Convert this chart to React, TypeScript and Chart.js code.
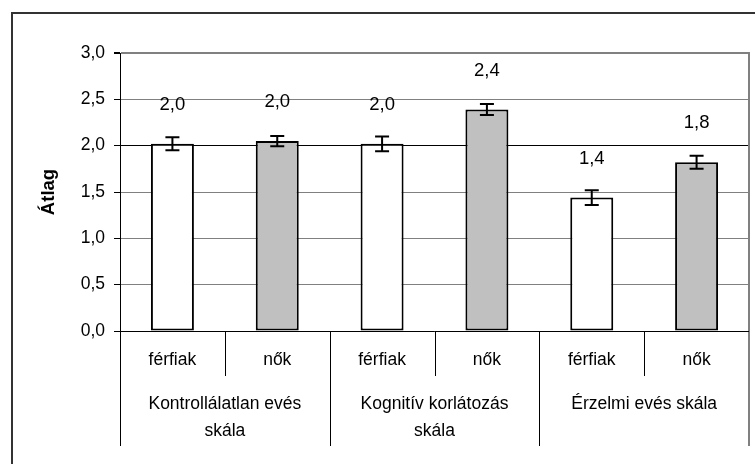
import React, { useEffect, useRef } from 'react';
import { Chart, registerables } from 'chart.js';

Chart.register(...registerables);

const categories = ['férfiak', 'nők', 'férfiak', 'nők', 'férfiak', 'nők'];
const groupLabels = [['Kontrollálatlan evés', 'skála'], ['Kognitív korlátozás', 'skála'], ['Érzelmi evés skála']];
const means = [2.02, 2.05, 2.02, 2.39, 1.44, 1.82];
const errors = [0.07, 0.055, 0.08, 0.06, 0.08, 0.07];
const barColors = ['#ffffff', '#c0c0c0', '#ffffff', '#c0c0c0', '#ffffff', '#c0c0c0'];
const yMin = 0;
const yMax = 3;
const yStep = 0.5;
const yTitle = 'Átlag';

const FONT = "'Liberation Sans', Arial, sans-serif";
const fmt = (v: number) => v.toFixed(1).replace('.', ',');

const decorPlugin = {
  id: 'decor',
  beforeDraw(chart: any) {
    const ctx = chart.ctx;
    ctx.save();
    ctx.strokeStyle = '#333333';
    ctx.lineWidth = 2;
    ctx.strokeRect(12, 13, 800, 520);
    ctx.restore();
  },
  afterDatasetsDraw(chart: any) {
    const ctx = chart.ctx;
    const meta = chart.getDatasetMeta(0);
    const y = chart.scales.y;
    ctx.save();
    meta.data.forEach((el: any, i: number) => {
      const top = y.getPixelForValue(means[i] + errors[i]);
      const bot = y.getPixelForValue(means[i] - errors[i]);
      ctx.strokeStyle = '#000';
      ctx.lineWidth = 2;
      ctx.beginPath();
      ctx.moveTo(el.x, top);
      ctx.lineTo(el.x, bot);
      ctx.moveTo(el.x - 7, top);
      ctx.lineTo(el.x + 7, top);
      ctx.moveTo(el.x - 7, bot);
      ctx.lineTo(el.x + 7, bot);
      ctx.stroke();
      ctx.fillStyle = '#000';
      ctx.font = `18.5px ${FONT}`;
      ctx.textAlign = 'center';
      ctx.textBaseline = 'middle';
      ctx.fillText(fmt(means[i]), el.x, el.y - 39);
    });
    ctx.restore();
  },
  afterDraw(chart: any) {
    const ctx = chart.ctx;
    const area = chart.chartArea;
    const x = chart.scales.x;
    ctx.save();
    ctx.strokeStyle = '#808080';
    ctx.lineWidth = 2;
    ctx.beginPath();
    ctx.moveTo(area.right, area.top - 1);
    ctx.lineTo(area.right, area.bottom + 115);
    ctx.stroke();
    ctx.strokeStyle = '#000';
    ctx.lineWidth = 1;
    ctx.beginPath();
    ctx.moveTo(area.left, Math.round(area.bottom) + 0.5);
    ctx.lineTo(area.right, Math.round(area.bottom) + 0.5);
    ctx.stroke();
    const n = categories.length;
    for (let i = 1; i < n; i++) {
      const bx = (x.getPixelForValue(i - 1) + x.getPixelForValue(i)) / 2;
      const len = i % 2 === 0 ? 115 : 45;
      ctx.beginPath();
      ctx.moveTo(Math.round(bx) + 0.5, area.bottom);
      ctx.lineTo(Math.round(bx) + 0.5, area.bottom + len);
      ctx.stroke();
    }
    ctx.beginPath();
    ctx.moveTo(Math.round(area.left) + 0.5, area.bottom);
    ctx.lineTo(Math.round(area.left) + 0.5, area.bottom + 115);
    ctx.stroke();
    ctx.restore();
  },
};

export default function App() {
  const ref = useRef<HTMLCanvasElement | null>(null);
  useEffect(() => {
    if (!ref.current) return;
    const chart = new Chart(ref.current, {
      type: 'bar',
      data: {
        labels: categories,
        datasets: [
          {
            data: means,
            backgroundColor: barColors,
            borderColor: '#000',
            borderWidth: 2,
            borderSkipped: false,
            barPercentage: 0.41,
            categoryPercentage: 1,
          },
        ],
      },
      options: {
        animation: false,
        responsive: false,
        layout: { padding: { top: 53, right: 6, left: 0, bottom: 0 } },
        plugins: { legend: { display: false }, tooltip: { enabled: false } },
        scales: {
          x: {
            type: 'category',
            position: 'bottom',
            grid: { display: false, drawTicks: false },
            border: { display: false },
            ticks: { color: '#000', font: { family: FONT, size: 17.5 }, padding: 19, maxRotation: 0, autoSkip: false },
            afterFit: (s: any) => { s.height = 45; },
          },
          x2: {
            type: 'category',
            position: 'bottom',
            labels: groupLabels as any,
            offset: true,
            grid: { display: false, drawTicks: false },
            border: { display: false },
            ticks: { color: '#000', font: { family: FONT, size: 17.5, lineHeight: 1.53 }, padding: 15, maxRotation: 0, autoSkip: false },
            afterFit: (s: any) => { s.height = 88; },
          },
          y: {
            min: yMin,
            max: yMax,
            ticks: {
              stepSize: yStep,
              color: '#000',
              font: { family: FONT, size: 17.5 },
              padding: 9,
              callback: (v: any) => fmt(Number(v)),
            },
            grid: {
              color: (c: any) => (c.tick && c.tick.value === 2 ? '#000' : '#808080'),
              lineWidth: (c: any) => (c.tick && c.tick.value === 3 ? 2 : 1),
              tickColor: '#000',
              tickLength: 6,
            },
            border: { display: true, color: '#000', width: 1 },
            title: {
              display: true,
              text: yTitle,
              color: '#000',
              font: { family: FONT, size: 18.5, weight: 'bold' },
              padding: { top: 38, bottom: 0 },
            },
            afterFit: (s: any) => { s.width = 120; },
          },
        },
      },
      plugins: [decorPlugin],
    } as any);
    return () => chart.destroy();
  }, []);
  return (
    <div style={{ position: 'fixed', left: 0, top: 0, width: 755, height: 464, background: '#fff' }}>
      <canvas ref={ref} width={755} height={464} />
    </div>
  );
}
